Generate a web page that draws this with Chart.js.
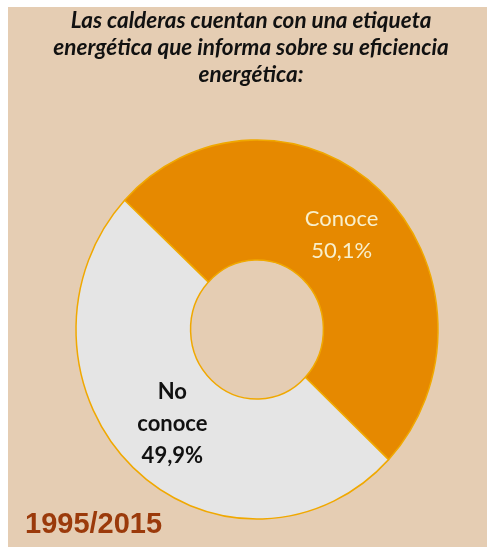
<!DOCTYPE html>
<html>
<head>
<meta charset="utf-8">
<script src="https://cdn.jsdelivr.net/npm/chart.js@4/dist/chart.umd.min.js"></script>
<style>
  html, body { margin: 0; padding: 0; background: #fff; }
  #panel { position: absolute; left: 8px; top: 7px; right: 0; bottom: 0; background: #E5CDB3; }
  #grafica { position: absolute; left: 0; top: 0; }
</style>
</head>
<body>
<div id="panel"></div>
<canvas id="grafica" width="487" height="547"></canvas>
<script>
// datos
const categorias = ["Conoce", "No conoce"];
const porcentajes = [50.1, 49.9];
const etiquetas = [["Conoce", "50,1%"], ["No", "conoce", "49,9%"]];
const titulo = [
    "Las calderas cuentan con una etiqueta",
    "energética que informa sobre su eficiencia",
    "energética:",
];
const periodo = "1995/2015";

const colores = ["#E68900", "#E5E5E5"];
const estiloEtiqueta = [
    { color: "#F8EFCB", font: "22px Lato" },
    { color: "#111", font: "bold 22px Lato" },
];
const escalaY = 1.047; // el anillo original esta algo estirado en vertical

// estira el anillo verticalmente sobre su centro
const estirar = {
    id: "estirar",
    beforeDatasetsDraw(chart) {
        const { ctx, chartArea } = chart;
        const cx = (chartArea.left + chartArea.right) / 2;
        const cy = (chartArea.top + chartArea.bottom) / 2;
        ctx.save();
        ctx.translate(cx, cy);
        ctx.scale(1, escalaY);
        ctx.translate(-cx, -cy);
    },
    afterDatasetsDraw(chart) {
        chart.ctx.restore();
    },
};

// titulo, etiquetas y periodo
const textos = {
    id: "textos",
    afterDraw(chart) {
        const { ctx, chartArea } = chart;
        const cy = (chartArea.top + chartArea.bottom) / 2;
        ctx.save();
        ctx.textAlign = "center";
        ctx.textBaseline = "alphabetic";

        ctx.fillStyle = "#111";
        ctx.font = "italic bold 22.5px Lato";
        titulo.forEach((t, i) => ctx.fillText(t, 251, 28 + i * 27));

        ctx.textBaseline = "middle";
        chart.getDatasetMeta(0).data.forEach((arc, i) => {
            const p = arc.tooltipPosition();
            const y0 = cy + (p.y - cy) * escalaY;
            const lineas = etiquetas[i];
            ctx.fillStyle = estiloEtiqueta[i].color;
            ctx.font = estiloEtiqueta[i].font;
            lineas.forEach((l, j) => {
                ctx.fillText(l, p.x, y0 + (j - (lineas.length - 1) / 2) * 32);
            });
        });

        ctx.textAlign = "left";
        ctx.textBaseline = "alphabetic";
        ctx.fillStyle = "#9B3A0B";
        ctx.font = "bold 29px 'Liberation Sans'";
        ctx.fillText(periodo, 25, 533);
        ctx.restore();
    },
};

new Chart(document.getElementById("grafica").getContext("2d"), {
    type: "doughnut",
    data: {
        labels: categorias,
        datasets: [
            {
                data: porcentajes,
                backgroundColor: colores,
                borderColor: "#F0A800",
                borderWidth: 1.5,
            },
        ],
    },
    options: {
        responsive: false,
        animation: false,
        rotation: -47,
        cutout: "36.7%",
        radius: 181,
        layout: { padding: { left: 60, right: 33, top: 140, bottom: 28 } },
        plugins: {
            legend: { display: false },
            tooltip: { enabled: false },
        },
    },
    plugins: [estirar, textos],
});
</script>
</body>
</html>
